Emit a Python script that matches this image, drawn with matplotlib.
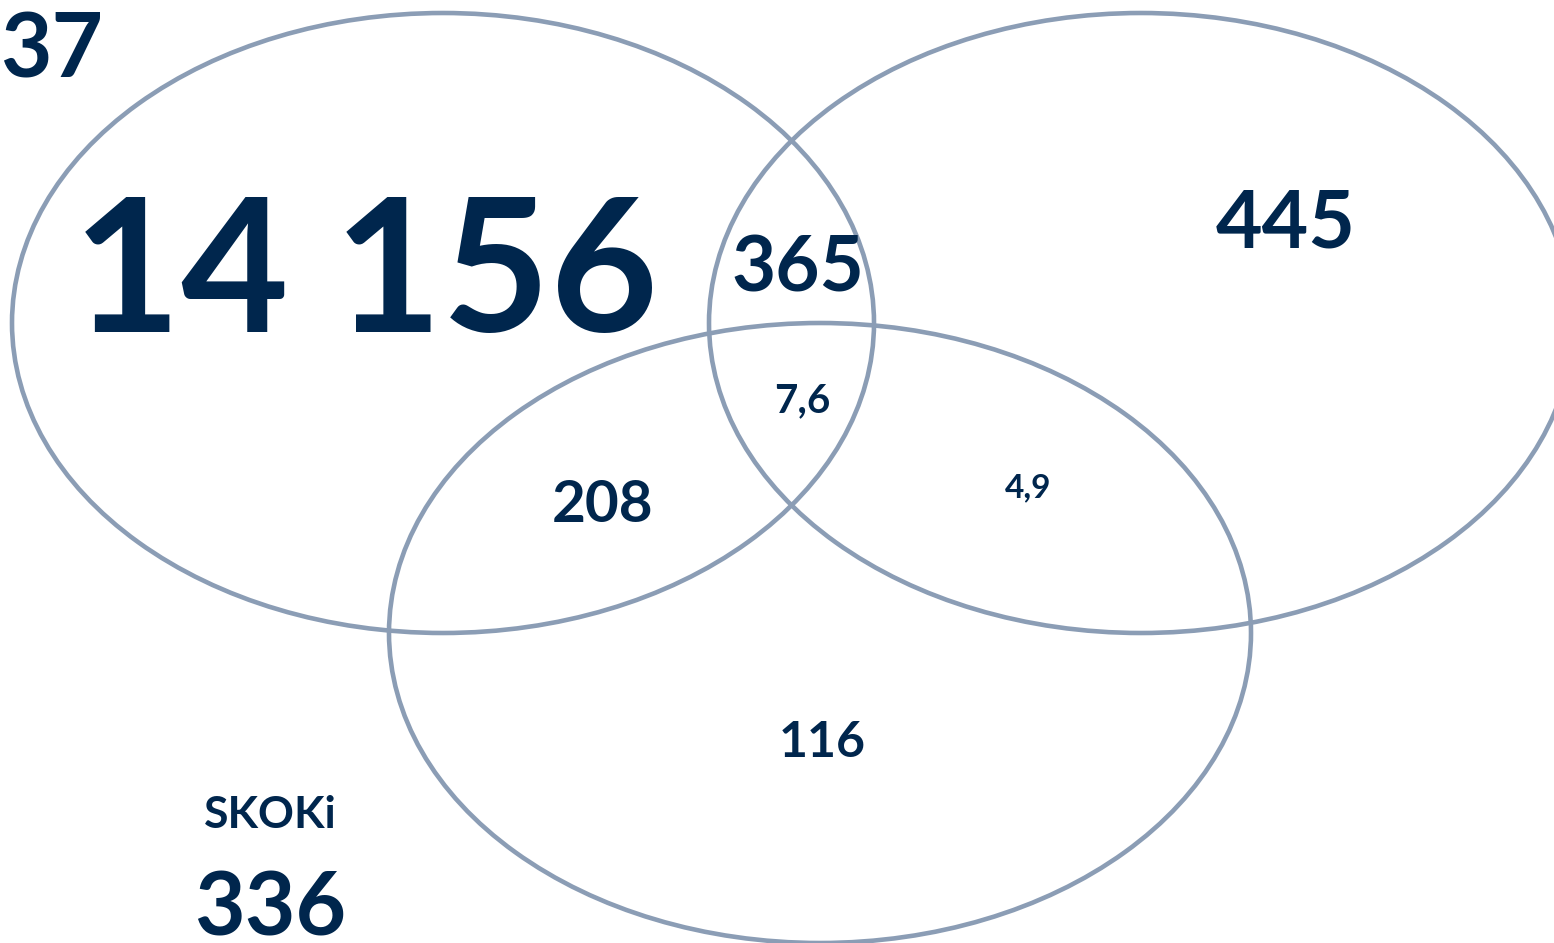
import matplotlib.pyplot as plt
from matplotlib.patches import Ellipse

# ellipses (center x, center y, width, height) in pixel units of the picture
ellipses_x = [443, 1141, 820]
ellipses_y = [323, 323, 633]
ellipses_w = [862, 864, 862]
ellipses_h = [620, 620, 620]

# labels: text, x, baseline y, font size
labels = ["37", "14 156", "365", "445", "7,6", "208", "4,9", "116", "SKOKi", "336"]
label_x = [52, 366, 798, 1286, 802, 603, 1028, 822, 270, 270]
label_y = [78, 332, 291, 248, 412, 522, 497, 757, 828, 935]
label_size = [64, 134, 55, 58, 29, 42, 24, 36, 32, 63]

navy = "#00264d"
line_col = "#8b9db5"

fig = plt.figure(figsize=(15.54, 9.43), dpi=100)
ax = fig.add_axes([0, 0, 1, 1])
ax.set_xlim(0, 1554)
ax.set_ylim(943, 0)
ax.axis("off")

for cx, cy, w, h in zip(ellipses_x, ellipses_y, ellipses_w, ellipses_h):
    ax.add_patch(Ellipse((cx, cy), w, h, fill=False, edgecolor=line_col, linewidth=3.3))

for t, x, y, s in zip(labels, label_x, label_y, label_size):
    ax.text(x, y, t, ha="center", va="baseline", fontsize=s, fontweight="bold",
            color=navy, family=["Lato", "DejaVu Sans"])

plt.savefig("out.png", dpi=100)
